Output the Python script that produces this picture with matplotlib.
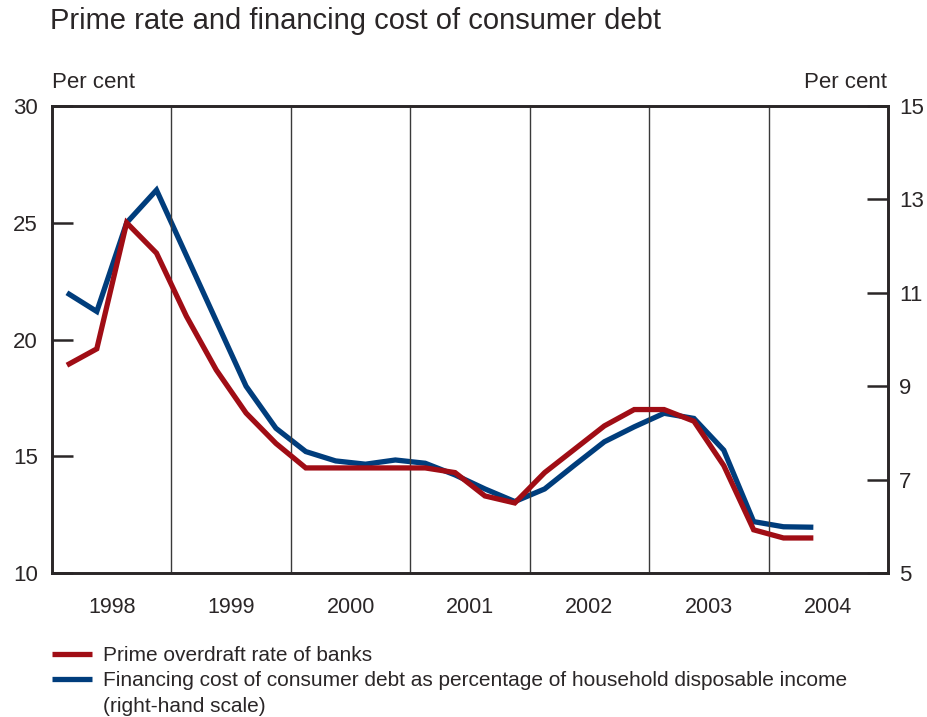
import numpy as np
import matplotlib.pyplot as plt
from matplotlib.lines import Line2D

plt.rcParams['font.family'] = ['Liberation Sans', 'DejaVu Sans']

# quarterly observations 1998Q1 .. 2004Q2
quarters = np.arange(1998.125, 2004.5, 0.25)
prime_rate = [18.9, 19.6, 25.0, 23.7, 21.0, 18.7, 16.85, 15.55,
              14.5, 14.5, 14.5, 14.5, 14.5, 14.3, 13.3, 13.0,
              14.3, 15.3, 16.3, 17.0, 17.0, 16.5, 14.6, 11.85,
              11.5, 11.5]
fin_cost = [11.0, 10.6, 12.5, 13.2, 11.8, 10.4, 9.0, 8.1,
            7.6, 7.4, 7.33, 7.42, 7.35, 7.1, 6.8, 6.53,
            6.8, 7.31, 7.81, 8.13, 8.42, 8.31, 7.63, 6.1,
            5.99, 5.98]
years = [1998, 1999, 2000, 2001, 2002, 2003, 2004]

red = '#a00d15'
blue = '#003d7c'
dark = '#2a2627'

fig = plt.figure(figsize=(9.28, 7.17), dpi=100)
ax = fig.add_axes([52/928, 1-573/717, (888-52)/928, (573-106)/717])
ax2 = ax.twinx()

l1, = ax.plot(quarters, prime_rate, color=red, lw=3.8, solid_capstyle='butt',
              solid_joinstyle='miter', zorder=3)
l2, = ax2.plot(quarters, fin_cost, color=blue, lw=3.8, solid_capstyle='butt',
               solid_joinstyle='miter', zorder=3)
# red above blue
ax.set_zorder(ax2.get_zorder() + 1)
ax.patch.set_visible(False)

ax.set_xlim(1998, 2005)
ax.set_ylim(10, 30)
ax2.set_ylim(5, 15)
ax.set_yticks([10, 15, 20, 25, 30])
ax2.set_yticks([5, 7, 9, 11, 13, 15])

for y in years[1:]:
    ax.axvline(y, color='#3a3a3a', lw=1.0, zorder=1)

ax.set_xticks([y + 0.5 for y in years])
ax.set_xticklabels([str(y) for y in years])
ax.tick_params(axis='x', length=0, pad=17, labelsize=15.5, colors=dark)
ax.tick_params(axis='y', direction='in', length=15, width=1.8, pad=10,
               labelsize=16, colors=dark)
ax2.tick_params(axis='y', direction='in', length=15, width=1.8, pad=8,
                labelsize=16, colors=dark)
for a in (ax, ax2):
    for s in a.spines.values():
        s.set_color(dark)
        s.set_linewidth(1.9)

fig.text(52/928, 1-83/717, 'Per cent', fontsize=16, color=dark, va='center', ha='left')
fig.text(887/928, 1-83/717, 'Per cent', fontsize=16, color=dark, va='center', ha='right')
fig.text(50/928, 1-21/717, 'Prime rate and financing cost of consumer debt',
         fontsize=21, color=dark, va='center', ha='left')

blank = Line2D([], [], color='none')
fig.legend([l1, l2, blank],
           ['Prime overdraft rate of banks',
            'Financing cost of consumer debt as percentage of household disposable income',
            '(right-hand scale)'],
           loc='upper left', bbox_to_anchor=(52/928, 1-646/717), frameon=False,
           fontsize=15, handlelength=1.9, handletextpad=0.55, borderpad=0,
           borderaxespad=0, labelspacing=0.3, labelcolor=dark)

fig.savefig('out.png', dpi=100)
